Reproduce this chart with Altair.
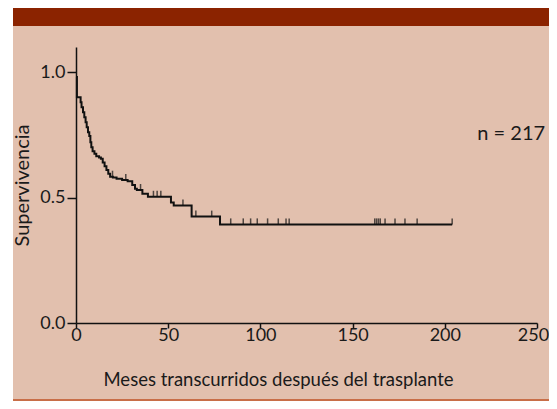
import altair as alt
import pandas as pd

# Kaplan-Meier step curve (months, survival)
km_time = [0, 0.5, 2.5, 3.0, 3.8, 4.5, 5.2, 5.8, 6.5, 7.2, 7.8, 8.3, 9.0, 10.0, 11.0,
           12.5, 13.5, 14.5, 15.5, 16.5, 17.5, 18.5, 20.0, 22.0, 25.0, 28.0, 30.5,
           32.0, 33.0, 36.0, 39.0, 51.5, 53.0, 62.7, 78.1, 204.0]
km_surv = [0.98, 0.90, 0.88, 0.86, 0.84, 0.82, 0.80, 0.78, 0.76, 0.745, 0.72, 0.70, 0.685,
           0.675, 0.665, 0.66, 0.655, 0.64, 0.625, 0.61, 0.595, 0.583, 0.58, 0.575, 0.57,
           0.565, 0.55, 0.535, 0.53, 0.515, 0.503, 0.48, 0.468, 0.424, 0.393, 0.393]

# censored observations (months)
censor_time = [19.8, 27.0, 35.0, 42.0, 44.0, 46.0, 58.0, 65.0, 73.6,
               83.9, 90.7, 94.7, 98.3, 103.9, 109.7, 113.9, 115.6,
               162.0, 163.0, 164.0, 165.0, 167.6, 173.0, 178.4, 185.0, 204.0]

x_ticks = [0, 50, 100, 150, 200, 250]
y_ticks = [0.0, 0.5, 1.0]

note_text = ["n = 217"]
note_x = [236]
note_y = [0.73]

BG = "#E2C0AE"
HEADER = "#8B2300"
BORDER = "#C86E48"
FONT = "Lato"


def surv_at(t):
    s = km_surv[0]
    for ti, si in zip(km_time, km_surv):
        if ti <= t:
            s = si
    return s


km_df = pd.DataFrame({"t": km_time, "s": km_surv})
cens_df = pd.DataFrame({"t": censor_time, "s": [surv_at(t) for t in censor_time]})
note_df = pd.DataFrame({"x": note_x, "y": note_y, "label": note_text})
one = pd.DataFrame({"k": [0]})

W, H = 461, 276

xscale = alt.Scale(domain=[0, 250], nice=False)
yscale = alt.Scale(domain=[0, 1.1], nice=False)

strip_l = alt.Chart(one).mark_rect(color="white").encode(
    x=alt.value(-70), x2=alt.value(-63), y=alt.value(-40), y2=alt.value(370)
)
header = alt.Chart(one).mark_rect(color=HEADER).encode(
    x=alt.value(-63), x2=alt.value(480), y=alt.value(-39), y2=alt.value(-21)
)
border = alt.Chart(one).mark_rect(color=BORDER).encode(
    x=alt.value(-63), x2=alt.value(480), y=alt.value(352), y2=alt.value(354)
)

line = alt.Chart(km_df).mark_line(
    interpolate="step-after", color="#111111", strokeWidth=2
).encode(
    x=alt.X("t:Q", scale=xscale,
            axis=alt.Axis(values=x_ticks, title="Meses transcurridos después del trasplante",
                          titleX=202, titleY=62, titleBaseline="alphabetic", titleFontSize=18.5,
                          tickSize=5, labelPadding=-2, labelFlush=False, zindex=1,
                          labelOffset={"condition": {"test": "datum.value == 250", "value": -4},
                                       "value": 0})),
    y=alt.Y("s:Q", scale=yscale,
            axis=alt.Axis(values=y_ticks, format=".1f", title="Supervivencia",
                          titleFontSize=20,
                          tickSize=9, labelPadding=2, titlePadding=7, zindex=1)),
)

ticks = alt.Chart(cens_df).mark_tick(
    orient="vertical", color="#111111", size=6, thickness=1.5, yOffset=-3
).encode(
    x=alt.X("t:Q", scale=xscale),
    y=alt.Y("s:Q", scale=yscale),
)

note = alt.Chart(note_df).mark_text(
    font=FONT, fontSize=20, color="#1a1a1a", align="center", baseline="alphabetic"
).encode(
    x=alt.X("x:Q", scale=xscale),
    y=alt.Y("y:Q", scale=yscale),
    text="label:N",
)

chart = alt.layer(strip_l, header, border, line, ticks, note).properties(
    width=W, height=H,
    autosize=alt.AutoSizeParams(type="none"),
    padding={"left": 68, "top": 39, "right": 12, "bottom": 78},
    background=BG,
).configure_view(stroke=None).configure_axis(
    grid=False, domainColor="#111111", domainWidth=1.5,
    tickColor="#111111", tickWidth=1.5,
    labelFont=FONT, labelFontSize=18, labelColor="#1a1a1a",
    titleFont=FONT, titleFontWeight="normal", titleColor="#1a1a1a",
)

chart.save("out.html", embed_options={"renderer": "svg", "actions": False})
